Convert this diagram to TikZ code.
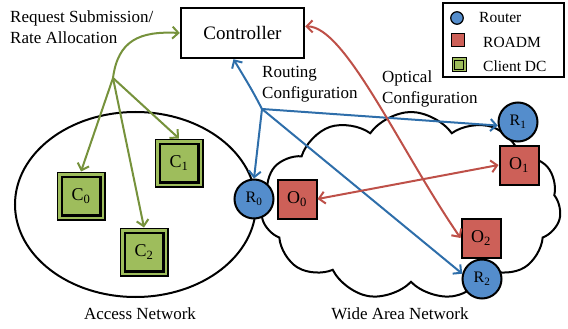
\documentclass[tikz,border=0pt]{standalone}
\usepackage{fontspec}
\setmainfont{Liberation Serif}
\usetikzlibrary{shapes.symbols,arrows.meta}

\definecolor{rtblue}{RGB}{84,141,204}
\definecolor{oxred}{RGB}{205,96,88}
\definecolor{dcgreen}{RGB}{158,189,92}
\definecolor{lgreen}{RGB}{118,146,60}
\definecolor{lblue}{RGB}{46,110,170}
\definecolor{lred}{RGB}{190,80,72}

\begin{document}
\begin{tikzpicture}[x=1pt,y=-1pt,
    router/.style={circle,draw,line width=2pt,fill=rtblue,minimum size=39pt,inner sep=0pt,font=\fontsize{16}{18}\selectfont},
    roadm/.style={rectangle,draw,line width=2pt,fill=oxred,minimum size=39pt,inner sep=0pt,font=\fontsize{18}{20}\selectfont},
    client/.style={rectangle,draw,line width=1.5pt,fill=dcgreen,minimum size=47.5pt,inner sep=0pt,font=\fontsize{18}{20}\selectfont},
    lbl/.style={inner sep=0pt,font=\fontsize{17}{21}\selectfont},
    legtext/.style={anchor=west,inner sep=0pt,font=\fontsize{15.5}{17}\selectfont},
    greenline/.style={draw=lgreen,line width=2pt,-{Straight Barb[length=6pt,width=12pt]}},
    blueline/.style={draw=lblue,line width=2pt,-{Straight Barb[length=6pt,width=12pt]}},
    redline/.style={draw=lred,line width=2pt,{Straight Barb[length=6pt,width=12pt]}-{Straight Barb[length=6pt,width=12pt]}}]
  \useasboundingbox (0,0) rectangle (568,329);

  % networks
  \node[cloud,draw,line width=2pt,cloud puffs=11,cloud puff arc=110,aspect=1.6,
        minimum width=300pt,minimum height=188pt] (wan) at (411,206) {};
  \draw[line width=2pt] (135.5,204.5) ellipse [x radius=120.5,y radius=92.5];
  \node[lbl] (acclbl) at (140,314) {Access Network};
  \node[lbl] (wanlbl) at (400,314) {Wide Area Network};

  \node[draw,line width=2.4pt,minimum width=123pt,minimum height=50pt,
        font=\fontsize{19}{22}\selectfont] (ctrl) at (242.5,33) {Controller};

  \node[client] (c0) at (81,196) {C\textsubscript{0}};
  \node[client] (c1) at (179,163) {C\textsubscript{1}};
  \node[client] (c2) at (144,252) {C\textsubscript{2}};
  \foreach \c in {c0,c1,c2}
    \draw[line width=2.6pt] ([shift={(5.3,5.3)}]\c.north west) rectangle ([shift={(-5.3,-5.3)}]\c.south east);

  \node[router] (r0) at (254,199) {R\textsubscript{0}};
  \node[roadm] (o0) at (297,199) {O\textsubscript{0}};
  \node[router] (r1) at (518,122) {R\textsubscript{1}};
  \node[roadm] (o1) at (519,165) {O\textsubscript{1}};
  \node[roadm] (o2) at (481,238) {O\textsubscript{2}};
  \node[router] (r2) at (482,279) {R\textsubscript{2}};

  \node[lbl,anchor=west,align=left] (reqlbl) at (10,27) {Request Submission/\\Rate Allocation};
  \node[lbl,anchor=west,align=left] (routlbl) at (262,84) {Routing\\Configuration};
  \node[lbl,anchor=west,align=left] (optlbl) at (382,89) {Optical\\Configuration};

  % legend
  \draw[line width=1.4pt] (443,3) rectangle (564,77);
  \node[router,minimum size=12.5pt,line width=1.2pt] (legr) at (457,18) {};
  \node[roadm,minimum size=12.5pt,line width=1.2pt] (lego) at (458,40) {};
  \node[client,minimum size=14pt,line width=1pt] (legc) at (459,65) {};
  \draw[line width=1.4pt] ([shift={(2.8,2.8)}]legc.north west) rectangle ([shift={(-2.8,-2.8)}]legc.south east);
  \node[legtext] (legrt) at (479,18) {Router};
  \node[legtext] (legot) at (483,42) {ROADM};
  \node[legtext] (legct) at (483,66) {Client DC};

  % control messages
  \coordinate (gsplit) at (113,78);
  \coordinate (bsplit) at (262,109);
  \draw[greenline] (gsplit) .. controls (118,40) and (140,31) .. (ctrl.west);
  \draw[greenline] (gsplit) -- (c0.north);
  \draw[greenline] (gsplit) -- (c1.north);
  \draw[greenline] (gsplit) -- (c2.north);

  \draw[blueline] (bsplit) .. controls (252,90) .. (ctrl.-109);
  \draw[blueline] (bsplit) -- (r0.north);
  \draw[blueline] (bsplit) -- (r1.190);
  \draw[blueline] (bsplit) -- (r2.165);

  \draw[redline] (ctrl.6) .. controls (345,26) and (400,150) .. (o2.west);
  \draw[redline] (o0.east) -- (o1.west);
\end{tikzpicture}
\end{document}
